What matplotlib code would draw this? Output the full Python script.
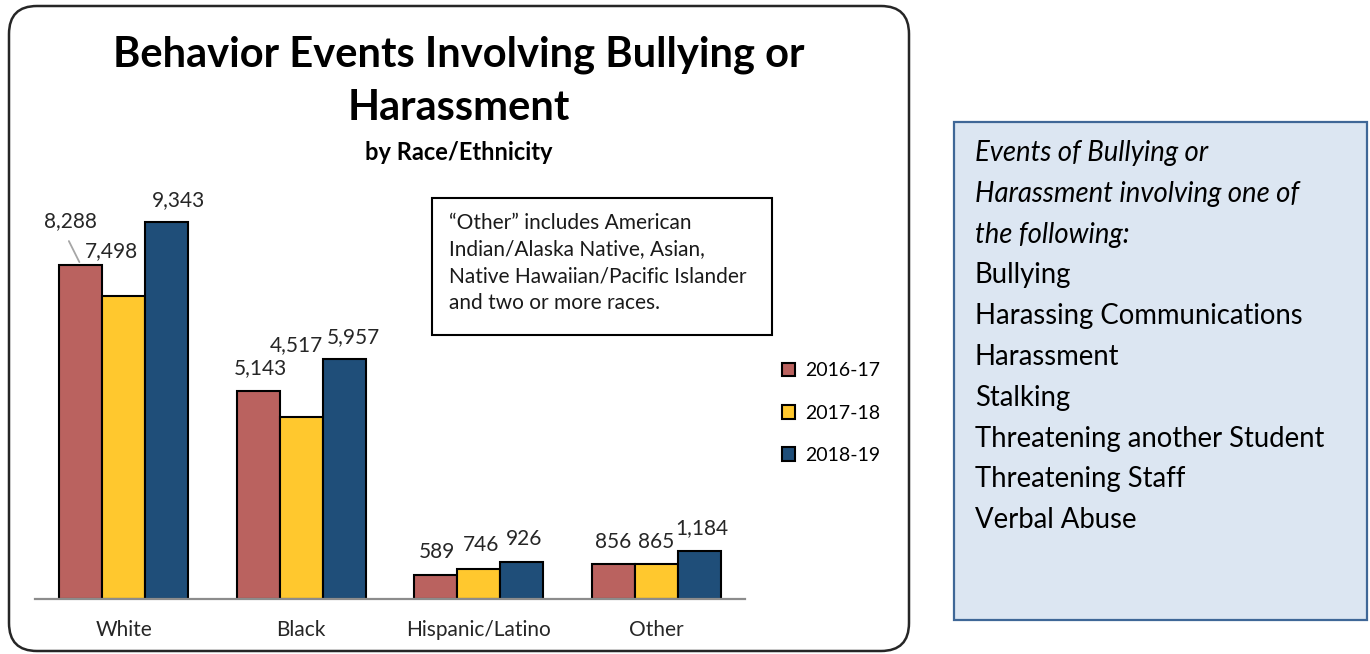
import matplotlib
matplotlib.use("Agg")
import matplotlib.pyplot as plt
from matplotlib.patches import FancyBboxPatch, Rectangle, Patch
import numpy as np

plt.rcParams['font.family'] = ['Lato', 'DejaVu Sans']

categories = ["White", "Black", "Hispanic/Latino", "Other"]
years = ["2016-17", "2017-18", "2018-19"]
v2016 = [8288, 5143, 589, 856]
v2017 = [7498, 4517, 746, 865]
v2018 = [9343, 5957, 926, 1184]
series = [v2016, v2017, v2018]
colors = ["#BA625F", "#FFC82E", "#1F4E79"]
# label offsets in pixels (dx, dy) from the bar top
offsets = [
    [(-10, 43), (2, 23), (1, 23), (0, 22)],
    [(-12, 45), (-5, 72), (2, 24), (0, 22)],
    [(12, 22), (9, 22), (2, 23), (2, 23)],
]
note_text = ("\u201cOther\u201d includes American\nIndian/Alaska Native, Asian,\n"
             "Native Hawaiian/Pacific Islander\nand two or more races.")
side_italic = ["Events of Bullying or", "Harassment involving one of", "the following:"]
side_items = ["Bullying", "Harassing Communications", "Harassment", "Stalking",
              "Threatening another Student", "Threatening Staff", "Verbal Abuse"]

W, H = 1370, 654
fig = plt.figure(figsize=(W / 100, H / 100), dpi=100)

# pixel-coordinate overlay
bg = fig.add_axes([0, 0, 1, 1], zorder=0)
bg.set_xlim(0, W)
bg.set_ylim(H, 0)
bg.axis("off")

bg.add_patch(FancyBboxPatch((9, 6), 900, 645, boxstyle="round,pad=0,rounding_size=28",
                            fill=False, edgecolor="#262626", linewidth=1.8))
bg.text(459, 55, "Behavior Events Involving Bullying or", ha="center", va="center",
        fontsize=30, fontweight="bold", color="black")
bg.text(459, 108, "Harassment", ha="center", va="center",
        fontsize=30, fontweight="bold", color="black")
bg.text(459, 153, "by Race/Ethnicity", ha="center", va="center",
        fontsize=17, fontweight="bold", color="black")

bg.add_patch(Rectangle((432, 198), 340, 137, fill=False, edgecolor="black", linewidth=1.5))
bg.text(449, 263, note_text, ha="left", va="center", fontsize=15, color="#1a1a1a",
        linespacing=1.43)

bg.add_patch(Rectangle((954, 122), 413, 498, facecolor="#DCE6F2", edgecolor="#3F6797",
                       linewidth=1.6))
y0 = 153
step = 40.8
for i, t in enumerate(side_italic):
    bg.text(975, y0 + i * step, t, ha="left", va="center", fontsize=19.8, style="italic",
            color="black")
for j, t in enumerate(side_items):
    bg.text(975, y0 + (len(side_italic) + j) * step, t, ha="left", va="center",
            fontsize=19.8, color="black")

# chart axes
left, right, base, top = 35, 745, 599, 195.5
ax = fig.add_axes([left / W, (H - base) / H, (right - left) / W, (base - top) / H], zorder=1)
ax.patch.set_alpha(0)
x = np.arange(len(categories))
bw = 0.243
for k, (vals, col) in enumerate(zip(series, colors)):
    xs = x + (k - 1) * bw
    ax.bar(xs, vals, width=bw, color=col, edgecolor="black", linewidth=1.5, zorder=2)
    for i, v in enumerate(vals):
        dx, dy = offsets[k][i]
        ax.annotate(f"{v:,}", xy=(xs[i], v), xytext=(dx, dy), textcoords="offset pixels",
                    ha="center", va="center", fontsize=15, color="#262626")

# leader line for 8,288
ax.annotate("", xy=(x[0] - bw, v2016[0]), xytext=(-13, 26), textcoords="offset pixels",
            arrowprops=dict(arrowstyle="-", color="#A6A6A6", lw=1.3))

ax.set_xlim(-0.5, len(categories) - 0.5)
ax.set_ylim(0, 10000)
ax.set_xticks(x)
ax.set_xticklabels(categories, fontsize=15, color="#262626")
ax.tick_params(axis="x", length=0, pad=15)
ax.set_yticks([])
for s in ["top", "right", "left"]:
    ax.spines[s].set_visible(False)
ax.spines["bottom"].set_color("#8C8C8C")
ax.spines["bottom"].set_linewidth(1.6)

handles = [Patch(facecolor=c, edgecolor="black", linewidth=1.5) for c in colors]
fig.legend(handles, years, loc="center left", bbox_to_anchor=(764 / W, 1 - 413 / H),
           frameon=False, fontsize=14, handlelength=0.7, handleheight=0.7,
           handletextpad=0.5, labelspacing=1.3)

fig.savefig("out.png", dpi=100)
